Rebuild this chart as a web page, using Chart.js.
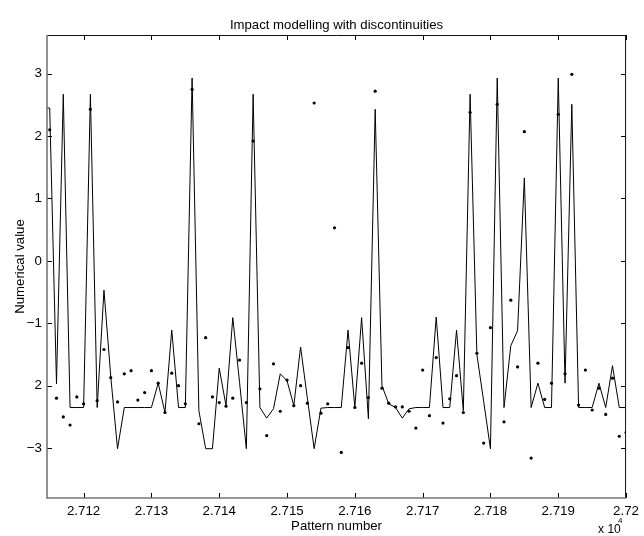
<!DOCTYPE html>
<html>
<head>
<meta charset="utf-8">
<title>Impact modelling with discontinuities</title>
<script src="https://cdn.jsdelivr.net/npm/chart.js@4.4.1/dist/chart.umd.min.js"></script>
<style>
  html, body { margin: 0; padding: 0; background: #fff; }
  #wrap { width: 644px; height: 536px; position: relative; }
</style>
</head>
<body>
<div id="wrap"><canvas id="impactChart"></canvas></div>
<script>
// Dados (número do padrão x valor numérico)
const patternNumbers = [
  27114, 27115, 27116, 27117, 27118, 27119, 27120, 27121, 27122, 27123,
  27124, 27125, 27126, 27127, 27128, 27129, 27130, 27131, 27132, 27133,
  27134, 27135, 27136, 27137, 27138, 27139, 27140, 27141, 27142, 27143,
  27144, 27145, 27146, 27147, 27148, 27149, 27150, 27151, 27152, 27153,
  27154, 27155, 27156, 27157, 27158, 27159, 27160, 27161, 27162, 27163,
  27164, 27165, 27166, 27167, 27168, 27169, 27170, 27171, 27172, 27173,
  27174, 27175, 27176, 27177, 27178, 27179, 27180, 27181, 27182, 27183,
  27184, 27185, 27186, 27187, 27188, 27189, 27190, 27191, 27192, 27193,
  27194, 27195, 27196, 27197, 27198, 27199, 27200
];

// Saída do modelo (linha)
const modelOutput = [
   2.45,  2.45, -1.97,  2.67, -2.35, -2.35, -2.35,  2.67, -2.35, -0.47,
  -1.85, -3.01, -2.35, -2.35, -2.35, -2.35, -2.35, -1.96, -2.43, -1.11,
  -2.35, -2.35,  2.93, -2.40, -3.01, -3.01, -1.72, -2.32, -0.91, -1.95,
  -3.01,  2.67, -2.35, -2.52, -2.37, -1.81, -1.92, -2.32, -1.38, -2.20,
  -3.01, -2.36, -2.35, -2.35, -2.35, -1.11, -2.35, -0.91, -2.53,  2.43,
  -2.00, -2.29, -2.35, -2.52, -2.37, -2.35, -2.35, -2.35, -0.90, -2.35,
  -2.35, -1.11, -2.40,  2.67, -1.50, -2.25, -3.01,  2.93, -2.35, -1.36,
  -1.12,  1.33, -2.35, -1.96, -2.35, -2.35,  2.93, -1.96,  2.51, -2.35,
  -2.35, -2.35, -1.96, -2.35, -1.68, -2.35, -2.35
];

// Valores alvo (pontos)
const targetValues = [
   null,  2.10, -2.20, -2.50, -2.63, -2.18, -2.29,  2.43, -2.24, -1.42,
  -1.87, -2.26, -1.81, -1.76, -2.23, -2.11, -1.76, -1.96, -2.43, -1.80,
  -2.00, -2.29,  2.75, -2.61, -1.23, -2.18, -2.27, -2.33, -2.20, -1.59,
  -2.27,  1.92, -2.05, -2.80, -1.65, -2.41, -1.91, -2.32, -2.00, -2.28,
   2.53, -2.44, -2.29,  0.53, -3.07, -1.39, -2.35, -1.64, -2.19,  2.72,
  -2.04, -2.28, -2.34, -2.34, -2.41, -2.68, -1.75, -2.48, -1.55, -2.60,
  -2.21, -1.84, -2.43,  2.38, -1.48, -2.92, -1.07,  2.51, -2.58, -0.63,
  -1.70,  2.07, -3.16, -1.64, -2.22, -1.96,  2.35, -1.81,  2.99, -2.31,
  -1.75, -2.39, -2.04, -2.46, -1.88, -2.81, -2.75
];

const xTickValues = [27120, 27130, 27140, 27150, 27160, 27170, 27180, 27190, 27200];
const xTickLabels = ['2.712', '2.713', '2.714', '2.715', '2.716', '2.717', '2.718', '2.719', '2.72'];
const yTickValues = [-3, -2, -1, 0, 1, 2, 3];
const yTickLabels = ['\u22123', '2', '\u22121', '0', '1', '2', '3'];

const TITLE = 'Impact modelling with discontinuities';
const X_TITLE = 'Pattern number';
const Y_TITLE = 'Numerical value';
const FONT = '"Liberation Sans", Arial, Helvetica, sans-serif';

/* ================= Moldura estilo MATLAB ================= */
const matlabFrame = {
  id: 'matlabFrame',
  afterDraw(chart) {
    const { ctx, chartArea: a, scales: { x, y } } = chart;
    const seg = (x1, y1, x2, y2) => { ctx.beginPath(); ctx.moveTo(x1, y1); ctx.lineTo(x2, y2); ctx.stroke(); };
    ctx.save();

    // marcas para dentro nos quatro lados
    ctx.strokeStyle = '#000';
    ctx.lineWidth = 1;
    xTickValues.forEach(v => {
      const px = Math.round(x.getPixelForValue(v)) + 0.5;
      seg(px, a.bottom, px, a.bottom - 5);
      seg(px, a.top, px, a.top + 5);
    });
    yTickValues.forEach(v => {
      const py = Math.round(y.getPixelForValue(v)) + 0.5;
      seg(a.left, py, a.left + 5, py);
      seg(a.right, py, a.right - 5, py);
    });

    // caixa
    ctx.strokeStyle = '#111';
    seg(a.left, a.top + 0.5, a.right, a.top + 0.5);
    seg(a.right - 0.5, a.top, a.right - 0.5, a.bottom);
    ctx.strokeStyle = '#777';
    ctx.lineWidth = 1.6;
    seg(a.left, a.top, a.left, a.bottom + 0.8);
    seg(a.left, a.bottom, a.right, a.bottom);

    // textos
    const cx = (a.left + a.right) / 2;
    ctx.fillStyle = '#000';
    ctx.textAlign = 'center';
    ctx.textBaseline = 'alphabetic';
    ctx.font = '13.2px ' + FONT;
    ctx.fillText(TITLE, cx, 29);
    ctx.fillText(X_TITLE, cx, 530);

    ctx.save();
    ctx.translate(24, (a.top + a.bottom) / 2);
    ctx.rotate(-Math.PI / 2);
    ctx.fillText(Y_TITLE, 0, 0);
    ctx.restore();

    ctx.textAlign = 'left';
    ctx.font = '12px ' + FONT;
    ctx.fillText('x 10', a.right - 28, 533);
    ctx.font = '8px ' + FONT;
    ctx.fillText('4', a.right - 8, 523);

    ctx.restore();
  }
};

/* ================= Gráfico ================= */
const tickFont = { family: FONT, size: 13.3 };

new Chart(document.getElementById('impactChart'), {
  type: 'scatter',
  data: {
    datasets: [
      {
        label: 'Modelo',
        data: patternNumbers.map((p, i) => ({ x: p, y: modelOutput[i] })),
        showLine: true,
        borderColor: '#000',
        borderWidth: 1,
        pointRadius: 0,
        tension: 0,
        order: 2
      },
      {
        label: 'Alvo',
        data: patternNumbers.map((p, i) => ({ x: p, y: targetValues[i] })),
        showLine: false,
        pointRadius: 1.6,
        pointBackgroundColor: '#000',
        pointBorderWidth: 0,
        order: 1
      }
    ]
  },
  options: {
    responsive: true,
    maintainAspectRatio: false,
    animation: false,
    layout: { padding: { top: 35, right: 13, left: 0, bottom: 0 } },
    plugins: { legend: { display: false }, tooltip: { enabled: false }, title: { display: false } },
    scales: {
      x: {
        type: 'linear',
        min: 27114.6,
        max: 27200,
        afterBuildTicks: s => { s.ticks = xTickValues.map(v => ({ value: v })); },
        afterFit: s => { s.height = 38; },
        ticks: {
          callback: (v, i) => xTickLabels[i],
          font: tickFont, color: '#000', padding: 5,
          maxRotation: 0, autoSkip: false
        },
        grid: { display: false, drawTicks: false },
        border: { display: false }
      },
      y: {
        type: 'linear',
        min: -3.8,
        max: 3.62,
        afterBuildTicks: s => { s.ticks = yTickValues.map(v => ({ value: v })); },
        afterFit: s => { s.width = 47; },
        ticks: {
          callback: (v, i) => yTickLabels[i],
          font: tickFont, color: '#000', padding: 5, autoSkip: false
        },
        grid: { display: false, drawTicks: false },
        border: { display: false }
      }
    }
  },
  plugins: [matlabFrame]
});
</script>
</body>
</html>
